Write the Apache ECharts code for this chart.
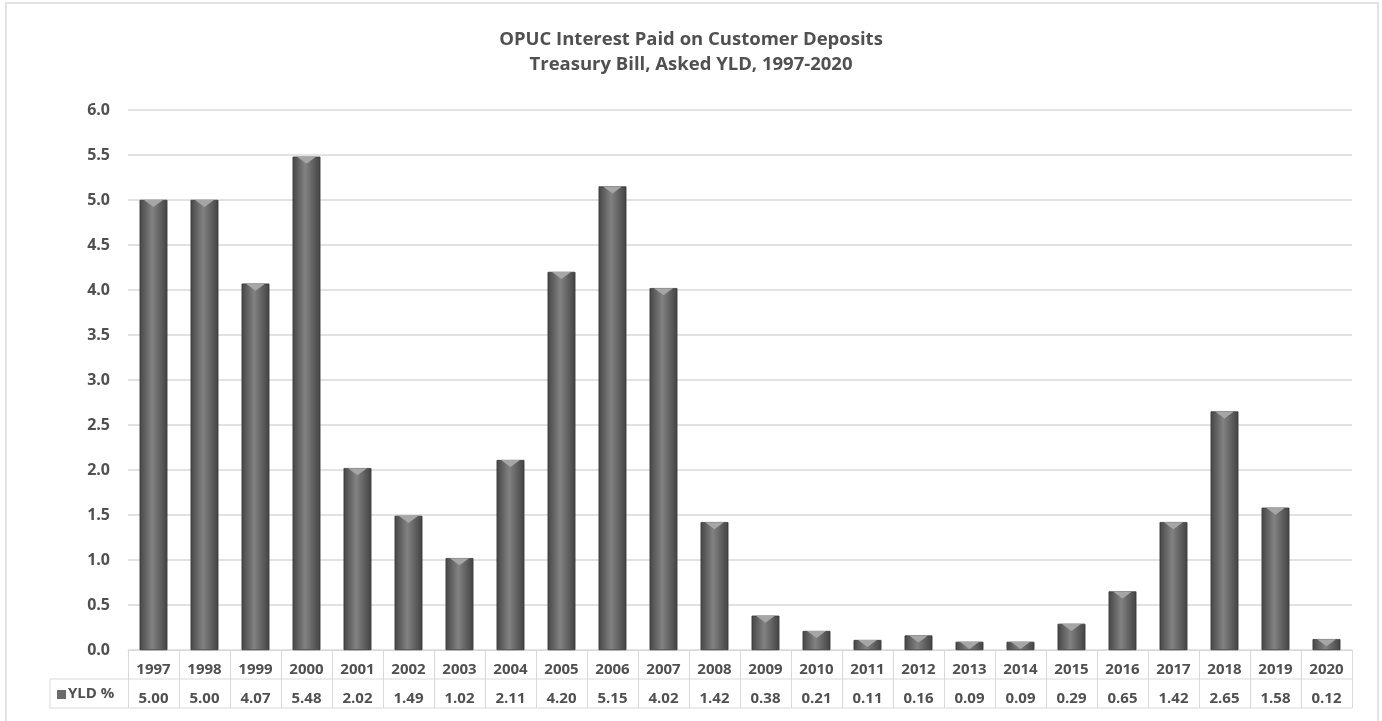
<!DOCTYPE html>
<html><head><meta charset="utf-8">
<script src="https://cdn.jsdelivr.net/npm/echarts@6/dist/echarts.min.js"></script>
<style>html,body{margin:0;padding:0;background:#fff}#c{width:1382px;height:721px}</style>
</head><body><div id="c"></div>
<script>
const years = ['1997','1998','1999','2000','2001','2002','2003','2004','2005','2006','2007','2008','2009','2010','2011','2012','2013','2014','2015','2016','2017','2018','2019','2020'];
const yld = [5.00,5.00,4.07,5.48,2.02,1.49,1.02,2.11,4.20,5.15,4.02,1.42,0.38,0.21,0.11,0.16,0.09,0.09,0.29,0.65,1.42,2.65,1.58,0.12];
const seriesName = 'YLD %';
const titleLines = ['OPUC Interest Paid on Customer Deposits','Treasury Bill, Asked YLD, 1997-2020'];

const FONT = '"Open Sans", "Noto Sans", sans-serif';
const TXT = '#505050';
const chart = echarts.init(document.getElementById('c'));
const G = {left:128, right:30, top:110, bottom:71};
const lineC = '#d9d9d9';
chart.setOption({
  backgroundColor:'#fff',
  animation:false,
  title:{text:titleLines.join('\n'), left:'center', top:22,
    textStyle:{fontFamily:FONT, fontSize:18.5, fontWeight:'bold', color:TXT, lineHeight:25}},
  grid:G,
  xAxis:{type:'category', data:years,
    axisLine:{show:true, lineStyle:{color:lineC, width:1}},
    axisTick:{show:true, length:58, interval:0, lineStyle:{color:lineC}},
    axisLabel:{interval:0, margin:5, fontFamily:FONT,
      formatter:(v,i)=>'{y|'+v+'}\n{v|'+yld[i].toFixed(2)+'}',
      rich:{y:{fontFamily:FONT,fontSize:15,fontWeight:'bold',color:TXT,height:29,lineHeight:29},
            v:{fontFamily:FONT,fontSize:15,fontWeight:'bold',color:TXT,height:29,lineHeight:29}}}},
  yAxis:{type:'value', min:0, max:6, interval:0.5,
    axisLine:{show:false}, axisTick:{show:false},
    axisLabel:{formatter:v=>v.toFixed(1), margin:18, fontFamily:FONT, fontSize:16, fontWeight:'bold', color:TXT},
    splitLine:{lineStyle:{color:lineC, width:1.5}}},
  series:[{
    name:seriesName, type:'bar', data:yld, barWidth:'54%',
    itemStyle:{color:new echarts.graphic.LinearGradient(0,0,1,0,[
      {offset:0,color:'#464646'},{offset:0.45,color:'#828282'},{offset:1,color:'#434343'}]),
      borderColor:'#3d3d3d', borderWidth:0.5}
  },{
    type:'pictorialBar', data:yld, symbol:'path://M0,0 L10,0 L5,6 Z', symbolSize:['54%',7],
    symbolPosition:'end', symbolOffset:[0,0], barGap:'-100%', z:3, silent:true,
    itemStyle:{color:'#a6a6a6'}
  }]
});
// table borders
const x0 = 50, xr = 1382 - G.right;
const yTop = 721 - G.bottom;
const y1 = yTop + 29, y2 = yTop + 58;
chart.setOption({graphic:[
  {type:'rect', shape:{x:6,y:3,width:1372,height:740}, style:{fill:'none', stroke:'#e3e3e3', lineWidth:2}, silent:true},
  {type:'line', shape:{x1:x0,y1:y1,x2:xr,y2:y1}, style:{stroke:lineC,lineWidth:1}},
  {type:'line', shape:{x1:x0,y1:y2,x2:xr,y2:y2}, style:{stroke:lineC,lineWidth:1}},
  {type:'line', shape:{x1:x0,y1:y1,x2:x0,y2:y2}, style:{stroke:lineC,lineWidth:1}},
  {type:'rect', shape:{x:57,y:y1+11,width:9,height:9}, style:{fill:'#6b6b6b'}},
  {type:'text', x:68, y:y1+15, style:{text:seriesName, fontFamily:FONT, fontSize:15, fontWeight:'bold', fill:TXT, verticalAlign:'middle'}}
]});
</script></body></html>
